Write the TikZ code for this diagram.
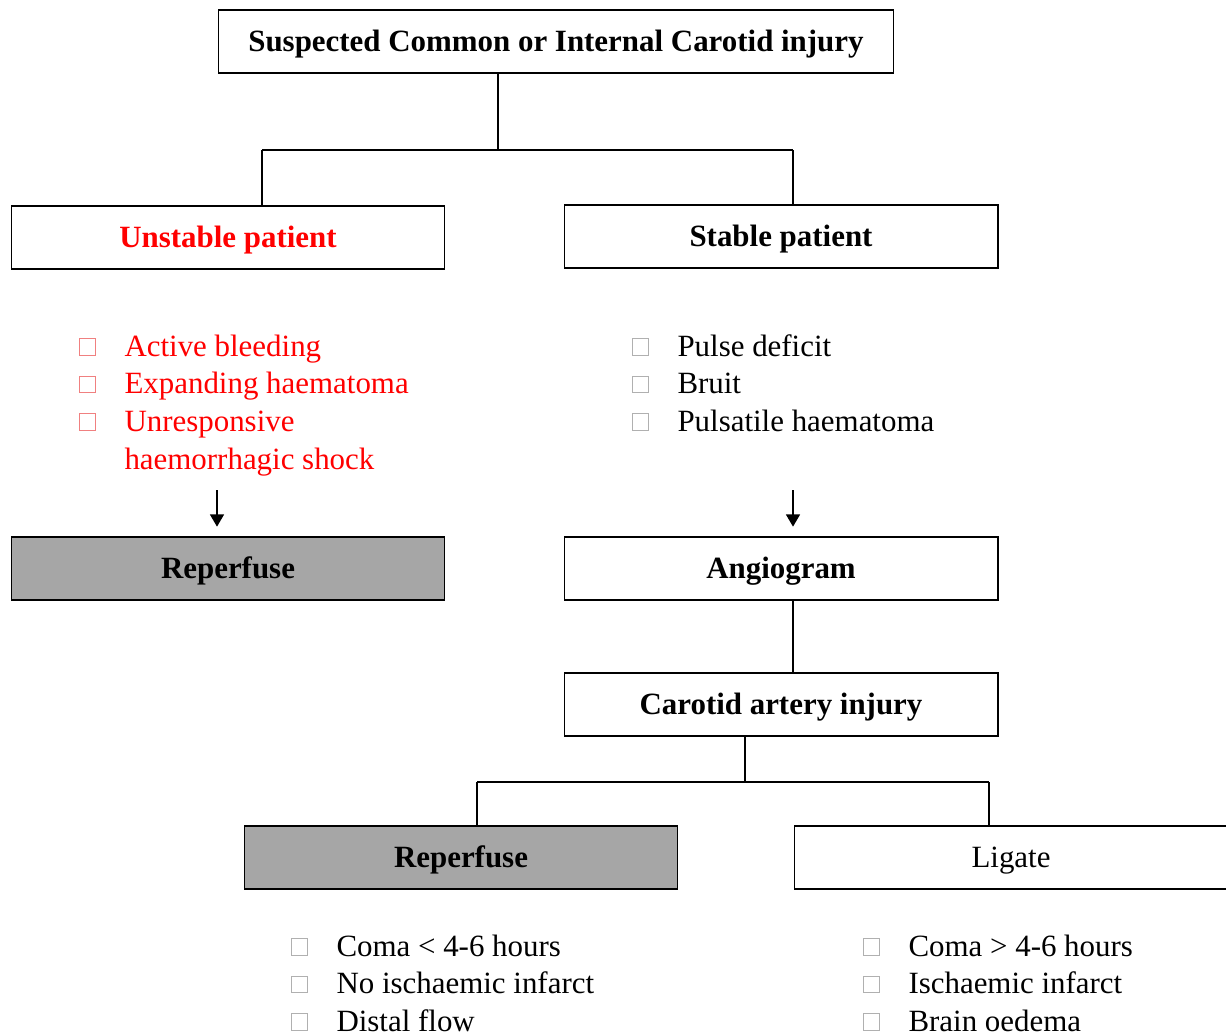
\documentclass[tikz,border=0pt]{standalone}
\usepackage{fontspec}
\setmainfont{Liberation Serif}
\usetikzlibrary{arrows.meta}
\definecolor{boxgray}{HTML}{A6A6A6}
\definecolor{bulred}{HTML}{F08080}
\definecolor{bulgray}{HTML}{B0B0B0}
\newcommand{\bx}[1]{{\fboxsep=0pt\fboxrule=0.4pt\raisebox{0.8pt}{\fcolorbox{#1}{white}{\rule{0pt}{9.2pt}\hspace{8.6pt}}}}}
\newcommand{\bigfont}{\fontsize{17.6}{21.5}\selectfont}
\tikzset{
  stepbox/.style={draw, line width=0.6pt, minimum width=8.68cm, minimum height=1.26cm, inner sep=0pt, text height=12.5pt, text depth=1.5pt, font=\bigfont\bfseries},
  greybox/.style={stepbox, fill=boxgray},
  conn/.style={line width=0.6pt},
  arr/.style={line width=0.8pt, -{Triangle[length=7pt,width=8pt]}, shorten >=5.6pt},
  bul/.style={anchor=base west, inner sep=0pt}
}
\begin{document}
\begin{tikzpicture}[x=0.02cm, y=-0.02cm, font=\bigfont]
		%%%%% START %%%%%
		\useasboundingbox (0,0) rectangle (1226,1035);
		
		\node[stepbox, minimum width=13.52cm] (title) at (556,41.5) {Suspected Common or Internal Carotid injury};
		\node[stepbox, text=red] (unstable) at (228,237.5) {Unstable patient};
		\node[stepbox] (stable) at (781,236.5) {Stable patient};
		
		\coordinate (j1) at (498,150);
		\coordinate (jl) at (262,150);
		\coordinate (jr) at (793,150);
		\draw[conn] (title.south -| j1) -- (j1);
		\draw[conn] (jl) -- (jr);
		\draw[conn] (jl) -- (jl |- unstable.north);
		\draw[conn] (jr) -- (jr |- stable.north);
		
		% signs
		\node[bul, text=red] (ulist) at (79,356) {\begin{tabular}[t]{@{}l@{\hspace{16.3pt}}l@{}}
			\bx{bulred} & Active bleeding\\
			\bx{bulred} & Expanding haematoma\\
			\bx{bulred} & Unresponsive\\
			& haemorrhagic shock
		\end{tabular}};
		\node[bul] (slist) at (632,356) {\begin{tabular}[t]{@{}l@{\hspace{16.3pt}}l@{}}
			\bx{bulgray} & Pulse deficit\\
			\bx{bulgray} & Bruit\\
			\bx{bulgray} & Pulsatile haematoma
		\end{tabular}};
		
		\node[greybox] (reperL) at (228,568.5) {Reperfuse};
		\node[stepbox] (angio) at (781,568.5) {Angiogram};
		
		\coordinate (a1) at (217,490);
		\coordinate (a2) at (793,490);
		\draw[arr] (a1) -- (a1 |- reperL.north);
		\draw[arr] (a2) -- (a2 |- angio.north);
		
		\node[stepbox] (injury) at (781,704.5) {Carotid artery injury};
		\draw[conn] (angio.south -| jr) -- (injury.north -| jr);
		
		\node[greybox] (reperB) at (461,857.5) {Reperfuse};
		\node[stepbox, font=\bigfont\mdseries] (ligate) at (1011,857.5) {Ligate};
		
		\coordinate (j2) at (745,782);
		\coordinate (jb1) at (477,782);
		\coordinate (jb2) at (989,782);
		\draw[conn] (injury.south -| j2) -- (j2);
		\draw[conn] (jb1) -- (jb2);
		\draw[conn] (jb1) -- (jb1 |- reperB.north);
		\draw[conn] (jb2) -- (jb2 |- ligate.north);
		
		% criteria
		\node[bul] (rlist) at (291,956) {\begin{tabular}[t]{@{}l@{\hspace{16.3pt}}l@{}}
			\bx{bulgray} & Coma < 4-6 hours\\
			\bx{bulgray} & No ischaemic infarct\\
			\bx{bulgray} & Distal flow
		\end{tabular}};
		\node[bul] (llist) at (863,956) {\begin{tabular}[t]{@{}l@{\hspace{16.3pt}}l@{}}
			\bx{bulgray} & Coma > 4-6 hours\\
			\bx{bulgray} & Ischaemic infarct\\
			\bx{bulgray} & Brain oedema
		\end{tabular}};
		
		%%%%% END %%%%%
\end{tikzpicture}
\end{document}
